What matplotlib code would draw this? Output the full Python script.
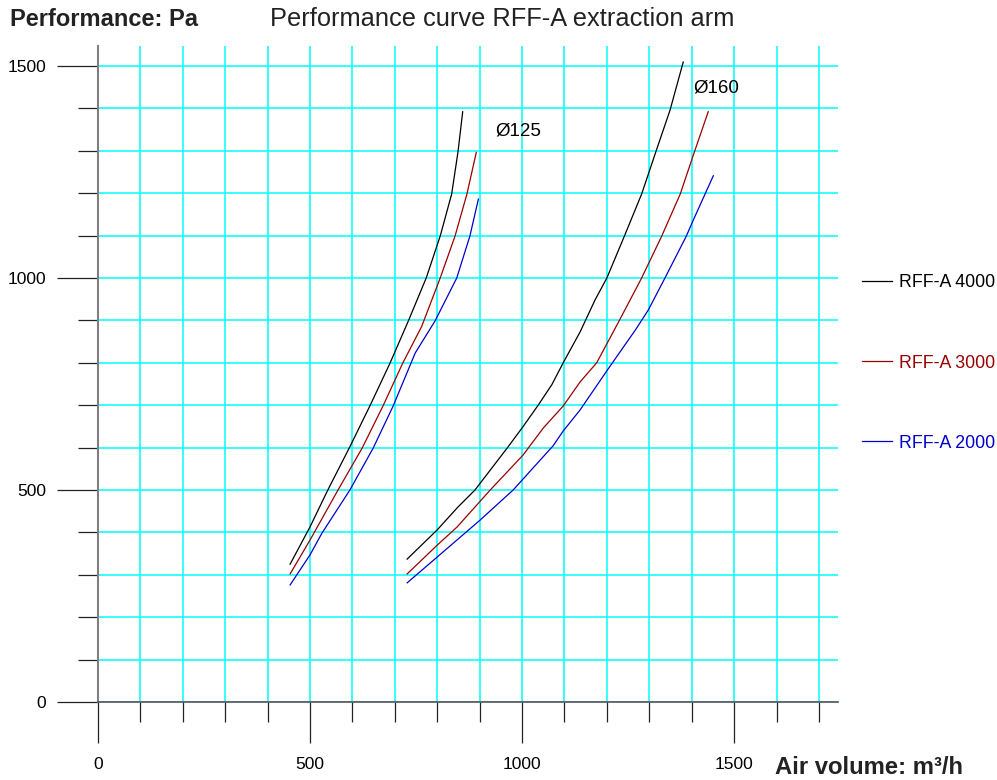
import matplotlib
matplotlib.use('Agg')
import matplotlib.pyplot as plt
import numpy as np

plt.rcParams['font.family'] = ['Liberation Sans', 'DejaVu Sans']

# Curves: air volume (m3/h) vs pressure (Pa)
# D125 arm
x_125_4000 = [453, 500, 542, 594, 642, 689, 732, 774, 807, 834, 849, 860]
y_125_4000 = [325, 413, 500, 602, 700, 800, 899, 1000, 1099, 1198, 1298, 1392]
x_125_3000 = [453, 500, 566, 623, 672, 719, 763, 807, 842, 870, 892]
y_125_3000 = [302, 382, 500, 599, 698, 800, 885, 1000, 1099, 1198, 1296]
x_125_2000 = [453, 500, 528, 594, 649, 696, 748, 795, 846, 877, 897]
y_125_2000 = [276, 347, 398, 500, 599, 698, 823, 899, 1000, 1099, 1186]

# D160 arm
x_160_4000 = [729, 800, 849, 889, 965, 1002, 1038, 1070, 1097, 1137, 1172,
              1200, 1241, 1282, 1317, 1349, 1380]
y_160_4000 = [337, 406, 460, 500, 599, 649, 700, 748, 800, 873, 948,
              1000, 1098, 1198, 1302, 1396, 1509]
x_160_3000 = [729, 800, 847, 925, 1002, 1050, 1097, 1137, 1176, 1229, 1282,
              1329, 1373, 1408, 1439]
y_160_3000 = [302, 370, 413, 500, 582, 646, 698, 755, 800, 899, 1000,
              1098, 1198, 1302, 1392]
x_160_2000 = [729, 800, 901, 979, 1026, 1073, 1097, 1137, 1204, 1267, 1298,
              1337, 1387, 1404, 1451]
y_160_2000 = [281, 342, 429, 500, 552, 604, 639, 689, 787, 877, 925,
              1000, 1098, 1137, 1241]

series_labels = ['RFF-A 4000', 'RFF-A 3000', 'RFF-A 2000']
series_colors = ['#000000', '#990000', '#0000cc']

x_major = [0, 500, 1000, 1500]
y_major = [0, 500, 1000, 1500]

fig = plt.figure(figsize=(9.97, 7.80), dpi=100)
ax = fig.add_axes([98 / 997, 78 / 780, 740 / 997, 656 / 780])

curves_125 = [(x_125_4000, y_125_4000), (x_125_3000, y_125_3000), (x_125_2000, y_125_2000)]
curves_160 = [(x_160_4000, y_160_4000), (x_160_3000, y_160_3000), (x_160_2000, y_160_2000)]

for (x, y), lab, col in zip(curves_125, series_labels, series_colors):
    ax.plot(x, y, color=col, lw=0.9, label=lab, zorder=3)
for (x, y), col in zip(curves_160, series_colors):
    ax.plot(x, y, color=col, lw=0.9, zorder=3)

ax.set_xlim(0, 1745)
ax.set_ylim(0, 1547)

ax.set_xticks(x_major)
ax.set_xticks(np.arange(0, 1701, 100), minor=True)
ax.set_yticks(y_major)
ax.set_yticks(np.arange(0, 1501, 100), minor=True)

ax.grid(True, which='both', color='#00ffff', lw=1.1, zorder=1)
ax.set_axisbelow(True)

ax.tick_params(which='major', direction='out', length=29.5, width=0.9,
               color='#222222', labelsize=12.5, pad=8)
ax.tick_params(which='minor', direction='out', length=14.4, width=0.9,
               color='#222222')
ax.tick_params(axis='x', which='major', pad=10)

for s in ['top', 'right']:
    ax.spines[s].set_visible(False)
ax.spines['left'].set_color('#808080')
ax.spines['left'].set_linewidth(1.5)
ax.spines['bottom'].set_color('#555555')
ax.spines['bottom'].set_linewidth(1.2)

ax.text(936, 1347, 'Ø125', fontsize=13.5, va='center', ha='left')
ax.text(1403, 1448, 'Ø160', fontsize=13.5, va='center', ha='left')

fig.text(10 / 997, 1 - 19 / 780, 'Performance: Pa', fontsize=17,
         fontweight='bold', color='#222222', va='center', ha='left')
fig.text(502 / 997, 1 - 19 / 780, 'Performance curve RFF-A extraction arm',
         fontsize=18.3, color='#222222', va='center', ha='center')
fig.text(775 / 997, 1 - 767 / 780, 'Air volume: m³/h', fontsize=17.2,
         fontweight='bold', color='#222222', va='center', ha='left')

ax.legend(loc='center left', bbox_to_anchor=(862 / 997, 1 - 363 / 780),
          bbox_transform=fig.transFigure, frameon=False, fontsize=12.8,
          labelcolor='linecolor', handlelength=1.7, handletextpad=0.4,
          labelspacing=3.55, borderpad=0, borderaxespad=0)

fig.savefig('out.png', dpi=100)
